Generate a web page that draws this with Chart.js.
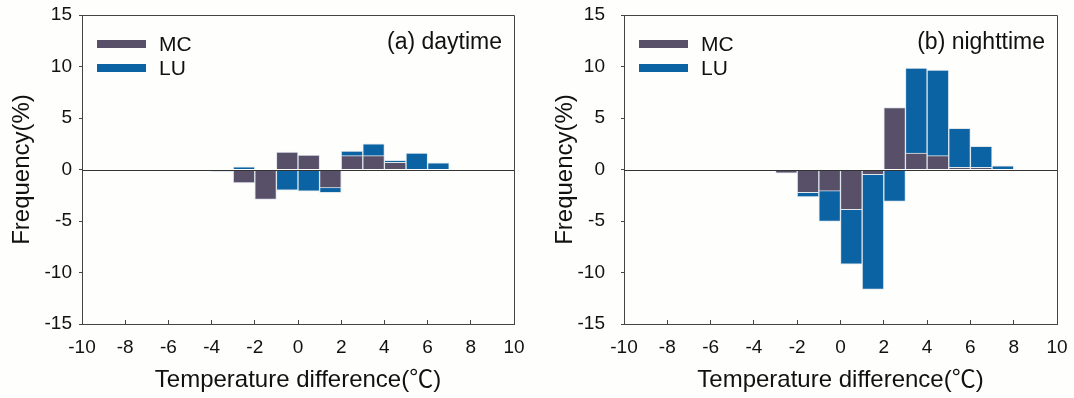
<!DOCTYPE html>
<html>
<head>
<meta charset="utf-8">
<title>Temperature difference frequency</title>
<script src="https://cdn.jsdelivr.net/npm/chart.js@4.4.1/dist/chart.umd.min.js"></script>
<style>
    html, body {
        margin: 0;
        padding: 0;
        background: #fefefc;
    }
    #wrap {
        position: relative;
        width: 1074px;
        height: 398px;
    }
    canvas {
        position: absolute;
        top: 0;
    }
    #dayChart { left: 0; }
    #nightChart { left: 537px; }
</style>
</head>
<body>
<div id="wrap">
    <canvas id="dayChart" width="537" height="398"></canvas>
    <canvas id="nightChart" width="537" height="398"></canvas>
</div>
<script>
// left edge of every 1 degree bin
const dayBins = [-4, -3, -2, -1, 0, 1, 2, 3, 4, 5, 6];
const dayMC = [-0.2, -1.3, -2.9, 1.7, 1.4, -1.8, 1.35, 1.35, 0.7, null, null];
const dayLU = [null, 0.25, null, -2.0, -2.1, -2.25, 1.8, 2.5, 0.9, 1.6, 0.65];

const nightBins = [-3, -2, -1, 0, 1, 2, 3, 4, 5, 6, 7];
const nightMC = [-0.35, -2.25, -2.1, -3.9, -0.5, 6.0, 1.6, 1.35, 0.2, 0.2, null];
const nightLU = [null, -2.65, -5.05, -9.2, -11.65, -3.1, 9.85, 9.65, 4.0, 2.25, 0.35];

const xTicks = { min: -10, max: 10, step: 2 };
const yTicks = { min: -15, max: 15, step: 5 };

const FONT = "'Liberation Sans', Arial, 'Noto Sans CJK SC', sans-serif";
const MC_COLOR = '#584f68';
const LU_COLOR = '#0b63a3';
const AXIS_COLOR = '#444';

function toPoints(bins, values) {
    const pts = [];
    bins.forEach(function (b, i) {
        if (values[i] !== null) {
            pts.push({ x: b + 0.5, y: values[i] });
        }
    });
    return pts;
}

// frame, zero line, legend and panel caption
const framePlugin = {
    id: 'frame',
    afterDatasetsDraw: function (chart, args, opts) {
        const ctx = chart.ctx;
        const a = chart.chartArea;
        const y0 = Math.round(chart.scales.y.getPixelForValue(0)) + 0.5;

        ctx.save();
        ctx.lineWidth = 1;
        ctx.strokeStyle = '#333';
        ctx.beginPath();
        ctx.moveTo(a.left, y0);
        ctx.lineTo(a.right, y0);
        ctx.stroke();

        ctx.strokeStyle = AXIS_COLOR;
        ctx.beginPath();
        ctx.moveTo(a.left, Math.round(a.top) + 0.5);
        ctx.lineTo(Math.round(a.right) + 0.5, Math.round(a.top) + 0.5);
        ctx.lineTo(Math.round(a.right) + 0.5, a.bottom);
        ctx.stroke();

        // legend
        const items = [['MC', MC_COLOR], ['LU', LU_COLOR]];
        ctx.font = '21px ' + FONT;
        ctx.textBaseline = 'middle';
        ctx.textAlign = 'left';
        items.forEach(function (it, i) {
            const cy = a.top + 29 + i * 24;
            ctx.fillStyle = it[1];
            ctx.fillRect(a.left + 15, cy - 4, 49, 8);
            ctx.fillStyle = '#111';
            ctx.fillText(it[0], a.left + 77, cy + 1);
        });

        // caption
        ctx.font = '23px ' + FONT;
        ctx.textAlign = 'right';
        ctx.fillStyle = '#111';
        ctx.fillText(opts.caption, a.right - 12, a.top + 28);
        ctx.restore();
    }
};

function buildPanel(id, bins, mc, lu, caption, box) {
    const ctx = document.getElementById(id).getContext('2d');

    new Chart(ctx, {
        type: 'bar',
        data: {
            datasets: [
                {
                    label: 'MC',
                    data: toPoints(bins, mc),
                    backgroundColor: MC_COLOR,
                    borderColor: '#dfe6ec',
                    borderWidth: 1,
                    grouped: false,
                    barPercentage: 1,
                    categoryPercentage: 1
                },
                {
                    label: 'LU',
                    data: toPoints(bins, lu),
                    backgroundColor: LU_COLOR,
                    borderColor: '#dfe6ec',
                    borderWidth: 1,
                    grouped: false,
                    barPercentage: 1,
                    categoryPercentage: 1
                }
            ]
        },
        options: {
            responsive: false,
            animation: false,
            devicePixelRatio: 1,
            layout: {
                padding: { top: box.top, right: box.right, left: 0, bottom: 0 }
            },
            scales: {
                x: {
                    type: 'linear',
                    offset: false,
                    min: xTicks.min,
                    max: xTicks.max,
                    afterFit: function (scale) {
                        scale.height = box.xHeight;
                        scale.paddingLeft = 0;
                        scale.paddingRight = 0;
                    },
                    ticks: {
                        stepSize: xTicks.step,
                        padding: 16,
                        maxRotation: 0,
                        color: '#111',
                        font: { family: FONT, size: 19 }
                    },
                    grid: {
                        offset: false,
                        drawOnChartArea: false,
                        tickLength: -4,
                        tickColor: AXIS_COLOR
                    },
                    border: { color: AXIS_COLOR },
                    title: {
                        display: true,
                        text: 'Temperature difference(℃)',
                        color: '#111',
                        padding: { top: 0, bottom: 3 },
                        font: { family: FONT, size: 24 }
                    }
                },
                y: {
                    min: yTicks.min,
                    max: yTicks.max,
                    afterFit: function (scale) {
                        scale.width = box.yWidth;
                        scale.paddingTop = 0;
                        scale.paddingBottom = 0;
                    },
                    ticks: {
                        stepSize: yTicks.step,
                        padding: box.yPad,
                        color: '#111',
                        font: { family: FONT, size: 19 }
                    },
                    grid: {
                        drawOnChartArea: false,
                        tickLength: 3,
                        tickColor: AXIS_COLOR
                    },
                    border: { color: AXIS_COLOR },
                    title: {
                        display: true,
                        text: 'Frequency(%)',
                        color: '#111',
                        padding: { top: box.titlePad, bottom: 0 },
                        font: { family: FONT, size: 24 }
                    }
                }
            },
            plugins: {
                legend: { display: false },
                tooltip: { enabled: false },
                frame: { caption: caption }
            }
        },
        plugins: [framePlugin]
    });
}

buildPanel('dayChart', dayBins, dayMC, dayLU, '(a) daytime',
    { top: 15, right: 23, yWidth: 82, xHeight: 74, yPad: 7, titlePad: 8 });
buildPanel('nightChart', nightBins, nightMC, nightLU, '(b) nighttime',
    { top: 15, right: 17, yWidth: 87, xHeight: 74, yPad: 16, titlePad: 14 });
</script>
</body>
</html>
